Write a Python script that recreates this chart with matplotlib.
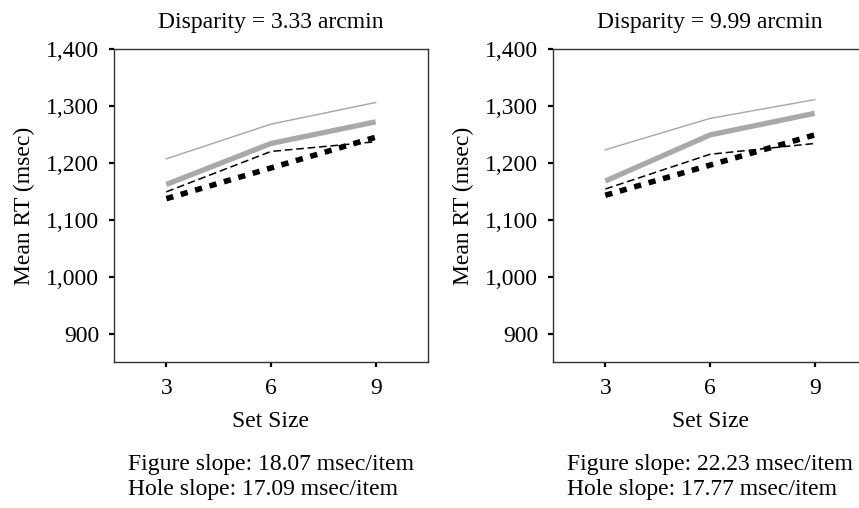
import numpy as np
import matplotlib.pyplot as plt

plt.rcParams['font.family'] = ['Liberation Serif', 'DejaVu Serif']

# set sizes on the x axis
set_sizes = [3, 6, 9]

# values (msec)
titles = ["Disparity = 3.33 arcmin", "Disparity = 9.99 arcmin"]
thin_gray = [[1207, 1268, 1306], [1223, 1278, 1311]]
thick_gray = [[1162, 1234, 1272], [1168, 1249, 1287]]
thin_dashed = [[1149, 1220, 1237], [1154, 1215, 1234]]
thick_dotted = [[1137, 1191, 1245], [1143, 1196, 1249]]
slope_notes = ["Figure slope: 18.07 msec/item\nHole slope: 17.09 msec/item",
               "Figure slope: 22.23 msec/item\nHole slope: 17.77 msec/item"]

yticks = [900, 1000, 1100, 1200, 1300, 1400]

fig = plt.figure(figsize=(8.59, 5.08), dpi=100)
W, H = 859, 508
fs = 17

# axes boxes in pixels: left, top, right, bottom
boxes = [(114, 49, 428, 362), (553, 49, 867, 362)]
note_x = [128, 567]

for i in range(2):
    l, t, r, b = boxes[i]
    ax = fig.add_axes([l / W, 1 - b / H, (r - l) / W, (b - t) / H])

    ax.plot(set_sizes, thin_gray[i], color="#a6a6a6", lw=1.0)
    ax.plot(set_sizes, thick_gray[i], color="#a9a9a9", lw=3.8, solid_capstyle="butt")
    ax.plot(set_sizes, thin_dashed[i], color="black", lw=1.1, dashes=(5, 2.5))
    ax.plot(set_sizes, thick_dotted[i], color="black", lw=4.0, dashes=(1.3, 1.4),
            dash_capstyle="butt")

    ax.set_xlim(1.5, 10.5)
    ax.set_ylim(850, 1400)
    ax.set_xticks(set_sizes)
    ax.set_yticks(yticks)
    ax.set_yticklabels([f"{v:,}" for v in yticks])
    ax.tick_params(direction="out", length=3.5, width=1.6, labelsize=fs, colors="black")
    ax.tick_params(axis="x", pad=8)
    ax.tick_params(axis="y", pad=7)
    for s in ax.spines.values():
        s.set_color("#333333")
        s.set_linewidth(1.0)

    ax.set_title(titles[i], fontsize=fs, pad=15)
    ax.set_xlabel("Set Size", fontsize=fs, labelpad=9)
    ax.set_ylabel("Mean RT (msec)", fontsize=fs, labelpad=8)

    fig.text(note_x[i] / W, 1 - 477 / H, slope_notes[i], fontsize=fs,
             ha="left", va="center", linespacing=1.25)

fig.savefig("out.png", dpi=100)
